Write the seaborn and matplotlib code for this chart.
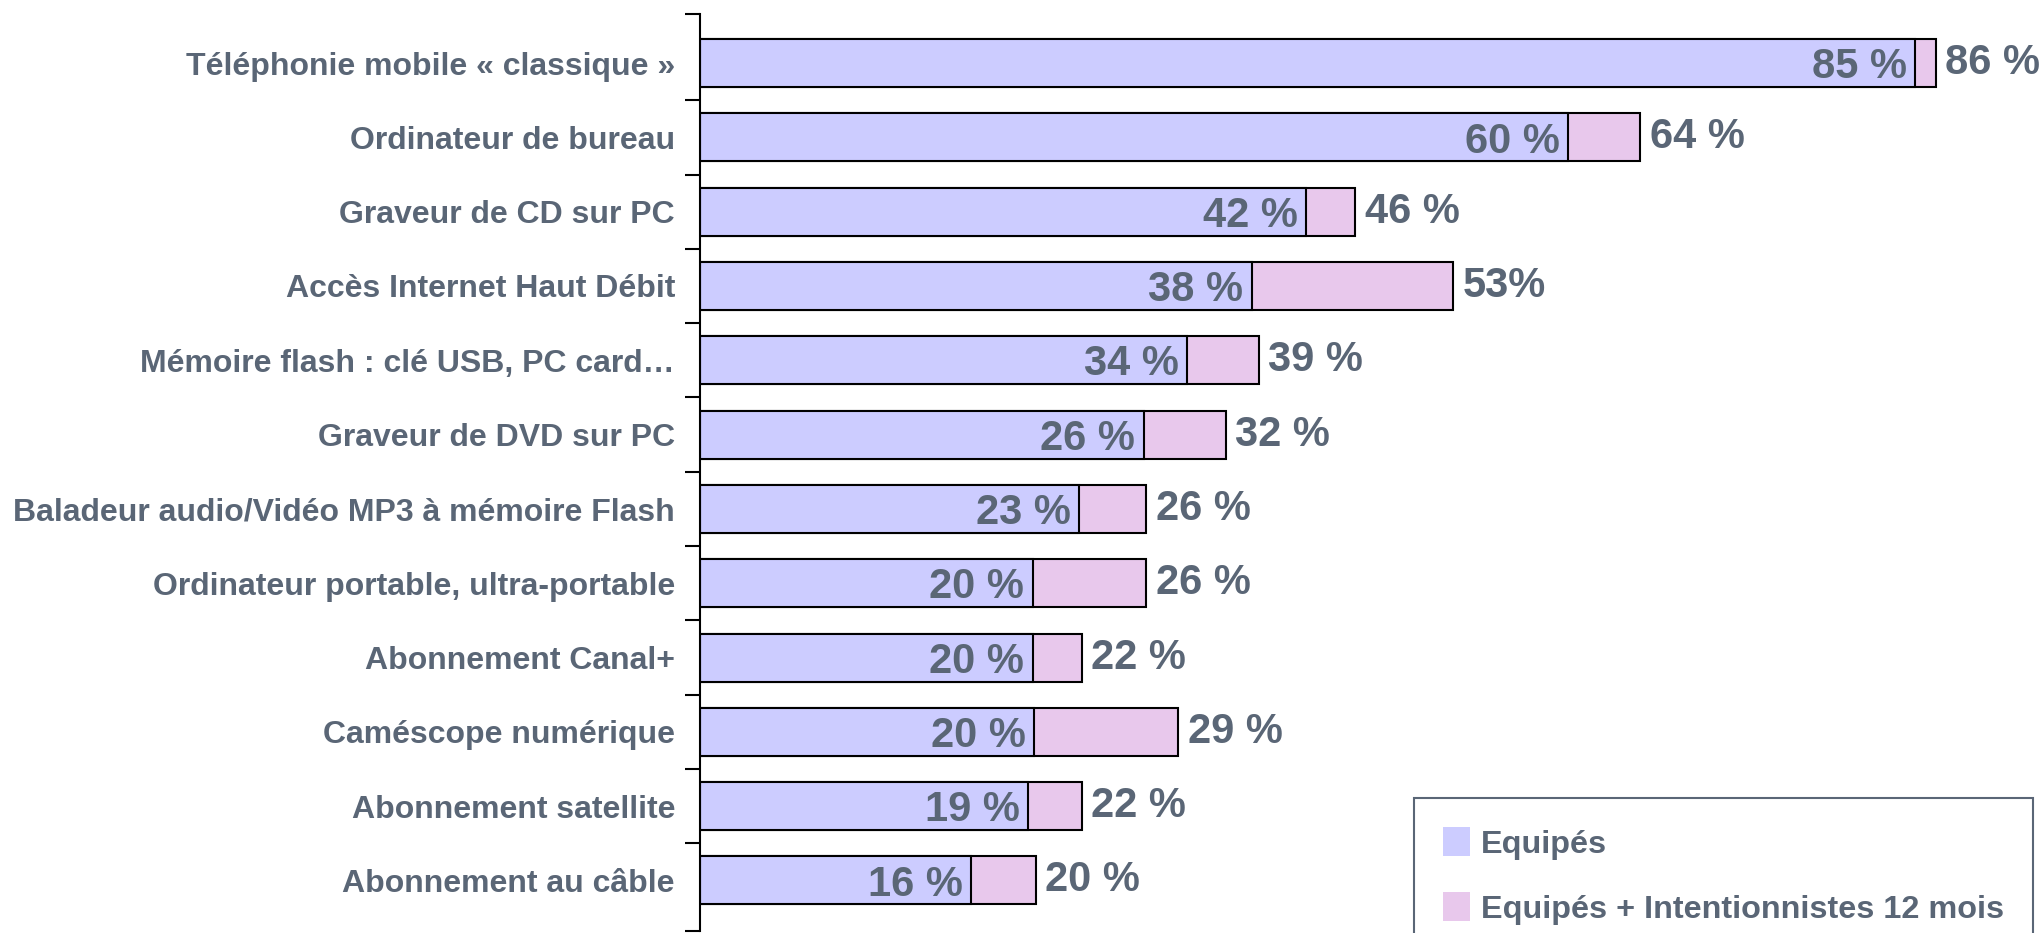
import numpy as np
import seaborn as sns
import matplotlib.pyplot as plt
from matplotlib.patches import Patch

# =========================
# Data (bar lengths, labels as printed)
# =========================
categories = [
    "Téléphonie mobile « classique »",
    "Ordinateur de bureau",
    "Graveur de CD sur PC",
    "Accès Internet Haut Débit",
    "Mémoire flash : clé USB, PC card…",
    "Graveur de DVD sur PC",
    "Baladeur audio/Vidéo MP3 à mémoire Flash",
    "Ordinateur portable, ultra-portable",
    "Abonnement Canal+",
    "Caméscope numérique",
    "Abonnement satellite",
    "Abonnement au câble",
]
equipes = [84.4, 60.3, 42.1, 38.3, 33.8, 30.8, 26.3, 23.1, 23.1, 23.2, 22.8, 18.8]
intention = [85.8, 65.3, 45.5, 52.3, 38.8, 36.5, 31.0, 31.0, 26.5, 33.2, 26.5, 23.3]
labels_equipes = ["85 %", "60 %", "42 %", "38 %", "34 %", "26 %",
                  "23 %", "20 %", "20 %", "20 %", "19 %", "16 %"]
labels_intention = ["86 %", "64 %", "46 %", "53%", "39 %", "32 %",
                    "26 %", "26 %", "22 %", "29 %", "22 %", "20 %"]
legend_labels = ["Equipés", "Equipés + Intentionnistes 12 mois"]

blue = "#CCCCFF"
pink = "#E8C8EC"
slate = "#5A6676"

# =========================
# Style
# =========================
sns.set_theme(style="white")
plt.rcParams["font.family"] = ["Liberation Sans", "DejaVu Sans"]
plt.rcParams["font.weight"] = "bold"

fig = plt.figure(figsize=(20.44, 9.33), dpi=100)
ax = fig.add_axes([700 / 2044, 2 / 933, 1344 / 2044, 917 / 933])

# =========================
# Bars: total first, equipped on top
# =========================
sns.barplot(x=intention, y=categories, orient="h", color=pink, saturation=1,
            width=0.646, edgecolor="black", linewidth=1.5, ax=ax)
sns.barplot(x=equipes, y=categories, orient="h", color=blue, saturation=1,
            width=0.646, edgecolor="black", linewidth=1.5, ax=ax)

for i, (v, lbl) in enumerate(zip(equipes, labels_equipes)):
    ax.annotate(lbl, (v, i), xytext=(-6, -3), textcoords="offset points",
                ha="right", va="center", fontsize=30, color=slate)
for i, (v, lbl) in enumerate(zip(intention, labels_intention)):
    ax.annotate(lbl, (v, i), xytext=(7, 0), textcoords="offset points",
                ha="left", va="center", fontsize=30, color=slate)

# =========================
# Axes
# =========================
ax.set_xlim(0, 1344 / 14.4)
ylo, yhi = 11.68, -0.66
ax.set_ylim(ylo, yhi)
ax.set_xlabel("")
ax.set_ylabel("")
ax.set_xticks([])

for s in ["top", "right", "bottom"]:
    ax.spines[s].set_visible(False)
ax.spines["left"].set_color("black")
ax.spines["left"].set_linewidth(1.5)

ax.set_yticks(np.r_[yhi, np.arange(0.5, 11, 1), ylo], minor=True)
ax.tick_params(axis="y", which="major", length=0, pad=18, labelsize=23,
               labelcolor=slate)
ax.tick_params(axis="y", which="minor", left=True, length=10.8, width=1.5,
               color="black")

# =========================
# Legend
# =========================
handles = [Patch(facecolor=blue, edgecolor="none", label=legend_labels[0]),
           Patch(facecolor=pink, edgecolor="none", label=legend_labels[1])]
leg = fig.legend(handles=handles, loc="upper left",
                 bbox_to_anchor=(1414 / 2044, 1 - 798 / 933),
                 fontsize=23.3, labelcolor=slate, frameon=True, fancybox=False,
                 edgecolor=slate, framealpha=1, handlelength=0.83,
                 handleheight=1.0, handletextpad=0.34, labelspacing=1.0,
                 borderpad=0.9, borderaxespad=0)
leg.get_frame().set_linewidth(1.5)

fig.savefig("out.png", dpi=100)
